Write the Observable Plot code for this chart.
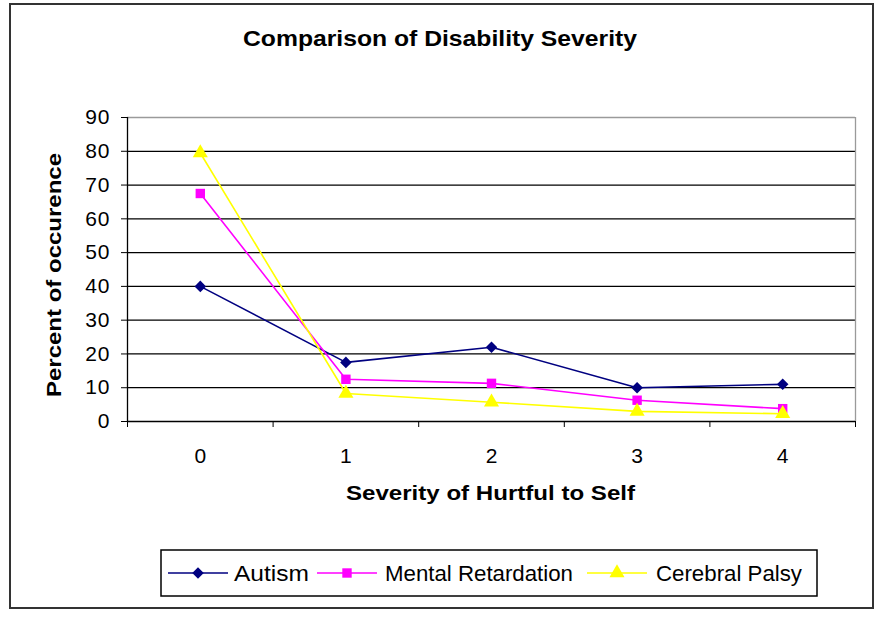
<!DOCTYPE html>
<html>
<head>
<meta charset="utf-8">
<script src="https://cdn.jsdelivr.net/npm/d3@7"></script>
<script src="https://cdn.jsdelivr.net/npm/@observablehq/plot@0.6"></script>
<style>
  html, body { margin: 0; padding: 0; background: #fff; }
  #chart { width: 882px; height: 619px; position: relative; }
  .yax text { letter-spacing: 1px; }
</style>
</head>
<body>
<div id="chart"></div>
<script>
// ---- data ----
const categories = [0, 1, 2, 3, 4];
const categoryLabels = ["0", "1", "2", "3", "4"];
const seriesNames = ["Autism", "Mental Retardation", "Cerebral Palsy"];
const autism = [40, 17.5, 22, 10, 11];
const mentalRetardation = [67.5, 12.5, 11.3, 6.3, 3.8];
const cerebralPalsy = [79.5, 8.3, 5.7, 3, 2.3];
const yTicks = [0, 10, 20, 30, 40, 50, 60, 70, 80, 90];
const title = "Comparison of Disability Severity";
const xLabel = "Severity of Hurtful to Self";
const yLabel = "Percent of occurence";

const seriesValues = [autism, mentalRetardation, cerebralPalsy];
const colors = ["#000080", "#FF00FF", "#FFFF00"];
const symbols = ["diamond2", "square", "triangle"];
const radii = [5.2, 5.3, 5.6];

const boundaries = categories.map(c => c - 0.5).concat([categories[categories.length - 1] + 0.5]);
const gridTicks = yTicks.filter(v => v > 0 && v < 90);

const seriesMarks = [];
seriesNames.forEach((name, i) => {
  const data = categories.map((c, j) => ({x: c, y: seriesValues[i][j], series: name}));
  seriesMarks.push(Plot.line(data, {x: "x", y: "y", stroke: colors[i], strokeWidth: 1.6}));
  seriesMarks.push(Plot.dot(data, {x: "x", y: "y", symbol: () => symbols[i], fill: colors[i], stroke: "none", r: radii[i]}));
});

const svg = Plot.plot({
  width: 882,
  height: 619,
  marginLeft: 127,
  marginRight: 27,
  marginTop: 117,
  marginBottom: 198,
  style: {fontFamily: "'Liberation Sans', Arial, sans-serif", fontSize: "21px", color: "#000", background: "transparent"},
  x: {domain: [boundaries[0], boundaries[boundaries.length - 1]]},
  y: {domain: [0, 90]},
  symbol: {type: "identity"},
  marks: [
    Plot.gridY(gridTicks, {stroke: "#000", strokeOpacity: 1, strokeWidth: 1.3}),
    Plot.ruleY([90], {stroke: "#9a9a9a", strokeWidth: 1.3}),
    Plot.ruleX([boundaries[boundaries.length - 1]], {stroke: "#9a9a9a", strokeWidth: 1.3}),
    Plot.axisY(yTicks, {tickSize: 6, tickPadding: 11, label: null, className: "yax", fontSize: 21, tickFormat: d => String(d)}),
    Plot.axisX(categories, {tickSize: 0, tickPadding: 27, label: null, fontSize: 21, tickFormat: d => categoryLabels[categories.indexOf(d)]}),
    Plot.axisX(boundaries, {tickSize: 6, tickFormat: () => "", label: null}),
    Plot.ruleX([boundaries[0]], {stroke: "#000", strokeWidth: 1.3}),
    Plot.ruleY([0], {stroke: "#000", strokeWidth: 1.3}),
    ...seriesMarks
  ]
});

document.getElementById("chart").appendChild(svg);

// ---- decorations: frame, title, labels, legend ----
const s = d3.select(svg);
const font = "'Liberation Sans', Arial, sans-serif";

s.insert("rect", ":first-child")
  .attr("x", 10).attr("y", 4).attr("width", 863).attr("height", 604)
  .attr("fill", "#fff").attr("stroke", "#333").attr("stroke-width", 2);

s.append("text").text(title)
  .attr("x", 243).attr("y", 46).attr("text-anchor", "start")
  .attr("font-family", font).attr("font-weight", "bold").attr("font-size", 22)
  .attr("textLength", 394).attr("lengthAdjust", "spacingAndGlyphs").attr("fill", "#000");

s.append("text").text(xLabel)
  .attr("x", 346).attr("y", 500).attr("text-anchor", "start")
  .attr("font-family", font).attr("font-weight", "bold").attr("font-size", 21)
  .attr("textLength", 289).attr("lengthAdjust", "spacingAndGlyphs").attr("fill", "#000");

s.append("text").text(yLabel)
  .attr("transform", "translate(61,397) rotate(-90)").attr("text-anchor", "start")
  .attr("font-family", font).attr("font-weight", "bold").attr("font-size", 21)
  .attr("textLength", 244).attr("lengthAdjust", "spacingAndGlyphs").attr("fill", "#000");

// legend
const lg = s.append("g");
lg.append("rect").attr("x", 161).attr("y", 550).attr("width", 656).attr("height", 46)
  .attr("fill", "#fff").attr("stroke", "#000").attr("stroke-width", 1.5);

const legendItems = [
  {x0: 168, x1: 228, text: 234, w: 75},
  {x0: 317, x1: 377, text: 385, w: 188},
  {x0: 587, x1: 647, text: 656, w: 146}
];
const symMap = {diamond2: d3.symbolDiamond2, square: d3.symbolSquare, triangle: d3.symbolTriangle};
legendItems.forEach((it, i) => {
  const cy = 573;
  lg.append("line").attr("x1", it.x0).attr("x2", it.x1).attr("y1", cy).attr("y2", cy)
    .attr("stroke", colors[i]).attr("stroke-width", 1.6);
  lg.append("path")
    .attr("d", d3.symbol(symMap[symbols[i]], Math.PI * radii[i] * radii[i])())
    .attr("transform", `translate(${(it.x0 + it.x1) / 2},${cy})`)
    .attr("fill", colors[i]);
  lg.append("text").text(seriesNames[i])
    .attr("x", it.text).attr("y", 581).attr("text-anchor", "start")
    .attr("font-family", font).attr("font-size", 22)
    .attr("textLength", it.w).attr("lengthAdjust", "spacingAndGlyphs").attr("fill", "#000");
});
</script>
</body>
</html>
